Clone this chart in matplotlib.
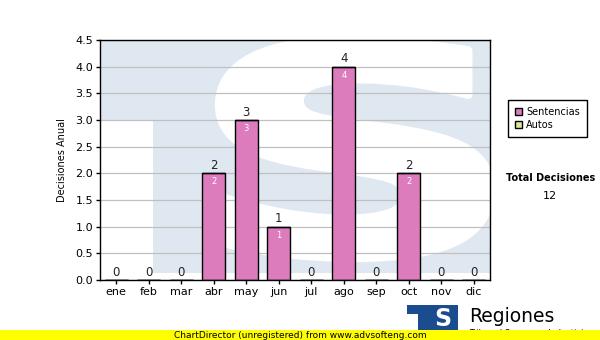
import matplotlib
matplotlib.use("Agg")
import matplotlib.pyplot as plt
import matplotlib.patches as patches
from matplotlib.textpath import TextPath
from matplotlib.font_manager import FontProperties
from matplotlib.transforms import Affine2D

months = ['ene', 'feb', 'mar', 'abr', 'may', 'jun', 'jul', 'ago', 'sep', 'oct', 'nov', 'dic']
sentencias = [0, 0, 0, 2, 3, 1, 0, 4, 0, 2, 0, 0]
autos = [0, 0, 0, 0, 0, 0, 0, 0, 0, 0, 0, 0]
y_ticks = [0.0, 0.5, 1.0, 1.5, 2.0, 2.5, 3.0, 3.5, 4.0, 4.5]

W, H = 600, 340
PINK = '#dc7cbd'
GREEN = '#d8eb9c'
WATER = '#dfe8f1'

plt.rcParams['font.family'] = ['DejaVu Sans']

fig = plt.figure(figsize=(W / 100, H / 100), dpi=100)
fig.patch.set_facecolor('white')


def fx(x):
    return x / W


def fy(y):
    return 1 - y / H


ax = fig.add_axes([fx(100), fy(280), (490 - 100) / W, (280 - 40) / H])

# ---- watermark "TS" logo behind the plot ----
def px_rect(x0, y0, x1, y1, color, z):
    r = patches.Rectangle((fx(x0), fy(y1)), fx(x1) - fx(x0), fy(y0) - fy(y1),
                          transform=fig.transFigure, facecolor=color,
                          edgecolor='none', zorder=z)
    ax.add_patch(r)


px_rect(100, 40, 490, 280, WATER, 0.1)
px_rect(100, 120, 153, 280, 'white', 0.2)
px_rect(100, 273, 490, 280, 'white', 0.2)

# big white S, thickened with a white outline
tp = TextPath((0, 0), "S", size=1, prop=FontProperties(family='DejaVu Sans', weight='bold'))
ext = tp.get_extents()
sx0, sy0, sx1, sy1 = 219, 40, 491, 258
sc_x = (fx(sx1) - fx(sx0)) / ext.width
sc_y = (fy(sy0) - fy(sy1)) / ext.height
tr = Affine2D().translate(-ext.x0, -ext.y0).scale(sc_x, sc_y).translate(fx(sx0), fy(sy1))
s_patch = patches.PathPatch(tr.transform_path(tp), transform=fig.transFigure,
                            facecolor='white', edgecolor='white', linewidth=6,
                            joinstyle='round', zorder=0.2)
ax.add_patch(s_patch)

# ---- bars ----
x = list(range(len(months)))
b1 = ax.bar(x, sentencias, width=0.7, color=PINK, edgecolor='black', linewidth=1.0,
            zorder=3, label='Sentencias')
b2 = ax.bar(x, autos, width=0.7, bottom=sentencias, color=GREEN, edgecolor='black',
            linewidth=1.0, zorder=3, label='Autos')

totals = [s + a for s, a in zip(sentencias, autos)]
for i, t in enumerate(totals):
    ax.annotate(str(t), (i, t), xytext=(0, 1), textcoords='offset points',
                ha='center', va='bottom', fontsize=8.5, color='#222222', zorder=5)
for i, s in enumerate(sentencias):
    if s > 0:
        ax.annotate(str(s), (i, s), xytext=(0, -3), textcoords='offset points',
                    ha='center', va='top', fontsize=6, color='white', zorder=5)

ax.set_xlim(-0.5, len(months) - 0.5)
ax.set_ylim(0, 4.5)
ax.set_yticks(y_ticks)
ax.set_yticklabels([f'{v:.1f}' for v in y_ticks], fontsize=8)
ax.set_xticks(x)
ax.set_xticklabels(months, fontsize=8)
ax.tick_params(direction='out', length=3, width=1, colors='black', pad=2)
ax.yaxis.grid(True, color='#c0c0c0', linewidth=0.9, zorder=0.5)
ax.set_axisbelow(True)
ax.set_facecolor('white')
for sp in ax.spines.values():
    sp.set_color('black')
    sp.set_linewidth(1.0)
    sp.set_zorder(6)
ax.set_ylabel('Decisiones Anual', fontsize=7, labelpad=6)

# ---- legend and totals on the right ----
fig.legend(handles=[b1, b2], labels=['Sentencias', 'Autos'], loc='upper left',
           bbox_to_anchor=(fx(508), fy(100)), fontsize=7, frameon=True, fancybox=False,
           edgecolor='black', framealpha=1, handlelength=0.7, handleheight=0.7,
           handletextpad=0.4, borderpad=0.75, labelspacing=0.25, borderaxespad=0)

fig.text(fx(551), fy(178), 'Total Decisiones', ha='center', va='center',
         fontsize=7, fontweight='bold')
fig.text(fx(550), fy(196), str(sum(totals)), ha='center', va='center', fontsize=8)

# ---- footer logo and banner ----
LOGO = '#1a4c8f'
for (x0, y0, x1, y1) in [(407, 305, 440, 314), (418, 305, 430, 332), (428, 305, 458, 332)]:
    fig.patches.append(patches.Rectangle((fx(x0), fy(y1)), fx(x1) - fx(x0), fy(y0) - fy(y1),
                                         transform=fig.transFigure, facecolor=LOGO,
                                         edgecolor='none'))
fig.text(fx(443), fy(319), 'S', ha='center', va='center', fontsize=17, fontweight='bold',
         color='white')
fig.text(fx(469), fy(316), 'Regiones', ha='left', va='center', fontsize=13.5)
fig.text(fx(469), fy(334), 'Tribunal Supremo de Justicia', ha='left', va='center', fontsize=6)

fig.patches.append(patches.Rectangle((0, 0), 1, fy(330), transform=fig.transFigure,
                                     facecolor='#ffff00', edgecolor='none', zorder=10))
fig.text(fx(300), fy(335), 'ChartDirector (unregistered) from www.advsofteng.com',
         ha='center', va='center', fontsize=6.5, zorder=11)

fig.savefig('out.png', dpi=100)
